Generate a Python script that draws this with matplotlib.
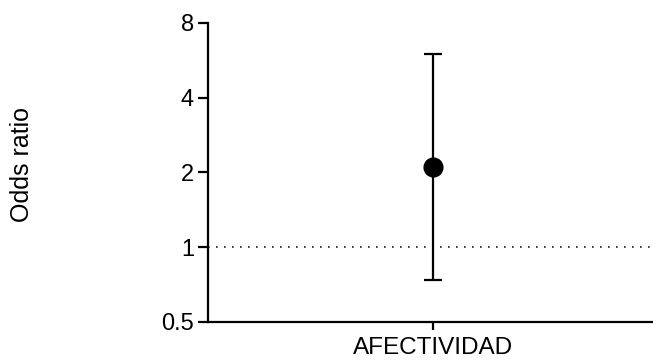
import numpy as np
import matplotlib.pyplot as plt
from matplotlib.ticker import FixedLocator, FixedFormatter, NullLocator

plt.rcParams['font.family'] = ['Liberation Sans', 'DejaVu Sans']

# odds ratio con IC 95%
categorias = ['AFECTIVIDAD']
odds = [2.11]
ic_inf = [0.74]
ic_sup = [6.0]
yticks = [0.5, 1, 2, 4, 8]
ytick_labels = ['0.5', '1', '2', '4', '8']

fig = plt.figure(figsize=(6.53, 3.62), dpi=100)
ax = fig.add_axes([0.3185, 0.1105, 0.6815, 0.8265])

x = np.arange(len(categorias))
err = [np.array(odds) - np.array(ic_inf), np.array(ic_sup) - np.array(odds)]

ax.axhline(1, color='#222222', lw=1.2, ls=(0, (1, 3.8)), zorder=1)
ax.errorbar(x, odds, yerr=err, fmt='o', color='black', ms=13.5,
            elinewidth=1.6, capsize=6.5, capthick=1.6, zorder=3)

ax.set_yscale('log', base=2)
ax.set_ylim(0.5, 8)
ax.yaxis.set_major_locator(FixedLocator(yticks))
ax.yaxis.set_major_formatter(FixedFormatter(ytick_labels))
ax.yaxis.set_minor_locator(NullLocator())
ax.set_xlim(-1, 0.978)
ax.set_xticks(x)
ax.set_xticklabels(categorias)

for s in ['top', 'right']:
    ax.spines[s].set_visible(False)
for s in ['left', 'bottom']:
    ax.spines[s].set_linewidth(1.6)

ax.tick_params(axis='y', length=7, width=1.6, labelsize=17, pad=3)
ax.tick_params(axis='x', length=6, width=1.6, labelsize=17.5, pad=5)

ax.set_ylabel('Odds ratio', fontsize=18)
ax.yaxis.set_label_coords(-0.39, 0.525)

fig.savefig('out.png', dpi=100)
